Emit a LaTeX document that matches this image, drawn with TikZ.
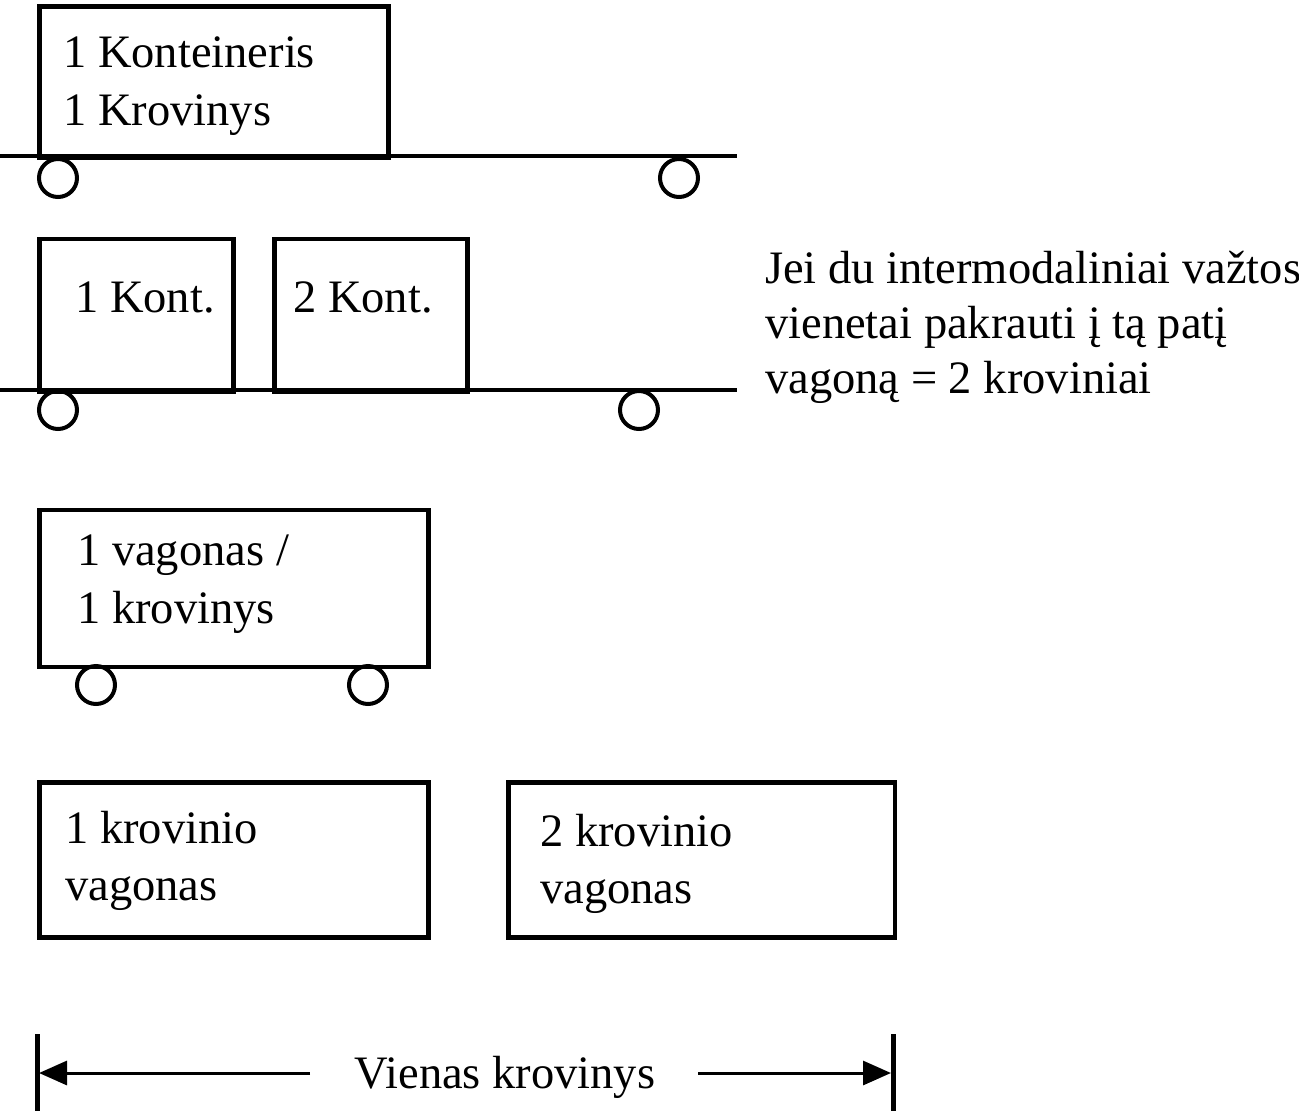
\documentclass[tikz,border=0pt]{standalone}
\usepackage{fontspec}
\setmainfont{Liberation Serif}
\usetikzlibrary{arrows.meta}
\tikzset{
  box/.style={draw, line width=4.5pt, inner sep=0pt, anchor=north west},
  rail/.style={line width=4pt},
  wheel/.style={draw, circle, line width=4pt, inner sep=0pt, minimum size=38pt},
  lbl/.style={font=\fontsize{46.5}{58}\selectfont, anchor=base west, inner sep=0pt},
  dim/.style={line width=3pt, -{Triangle[length=28pt, width=24pt]}},
  bar/.style={line width=5pt}
}
\begin{document}
\begin{tikzpicture}[x=1pt, y=-1pt]
\useasboundingbox (0,0) rectangle (1299,1114);
% row 1
\node[box, minimum width=349pt, minimum height=151pt] (c1) at (37,4) {};
\coordinate (r1a) at (0,156);
\coordinate (r1b) at (737,156);
\draw[rail] (r1a) -- (r1b);
\node[wheel] (w1a) at (58,178) {};
\node[wheel] (w1b) at (679,178) {};
\node[lbl] (t1a) at (63,67) {1 Konteineris};
\node[lbl] (t1b) at (63,125) {1 Krovinys};
% row 2
\node[box, minimum width=194pt, minimum height=153pt] (c2a) at (37,236.5) {};
\node[box, minimum width=193pt, minimum height=153pt] (c2b) at (272,236.5) {};
\coordinate (r2a) at (0,390);
\coordinate (r2b) at (737,390);
\draw[rail] (r2a) -- (r2b);
\node[wheel] (w2a) at (58,410) {};
\node[wheel] (w2b) at (639,410) {};
\node[lbl] (t2a) at (75,312) {1 Kont.};
\node[lbl] (t2b) at (293,312) {2 Kont.};
\node[lbl] (n1) at (765,283) {Jei du intermodaliniai važtos};
\node[lbl] (n2) at (765,338) {vienetai pakrauti į tą patį};
\node[lbl] (n3) at (765,393) {vagoną = 2 kroviniai};
% row 3
\node[box, minimum width=389pt, minimum height=157pt] (v3) at (37,507.5) {};
\node[wheel] (w3a) at (96,685) {};
\node[wheel] (w3b) at (368,685) {};
\node[lbl] (t3a) at (77,565) {1 vagonas /};
\node[lbl] (t3b) at (77,623) {1 krovinys};
% row 4
\node[box, minimum width=389pt, minimum height=155pt] (v4a) at (37,780) {};
\node[box, minimum width=386.5pt, minimum height=155pt] (v4b) at (506,780) {};
\node[lbl] (t4a) at (65,843) {1 krovinio};
\node[lbl] (t4b) at (65,900) {vagonas};
\node[lbl] (t4c) at (540,846) {2 krovinio};
\node[lbl] (t4d) at (540,903) {vagonas};
% dimension
\coordinate (b1t) at (37,1034);
\coordinate (b1b) at (37,1111);
\coordinate (b2t) at (893,1034);
\coordinate (b2b) at (893,1111);
\draw[bar] (b1t) -- (b1b);
\draw[bar] (b2t) -- (b2b);
\node[font=\fontsize{46.5}{58}\selectfont, anchor=base, inner sep=0pt] (vk) at (505,1088) {Vienas krovinys};
\coordinate (aL) at (310,1073);
\coordinate (aLt) at (39,1073);
\coordinate (aR) at (698,1073);
\coordinate (aRt) at (891,1073);
\draw[dim] (aL) -- (aLt);
\draw[dim] (aR) -- (aRt);
\end{tikzpicture}
\end{document}
